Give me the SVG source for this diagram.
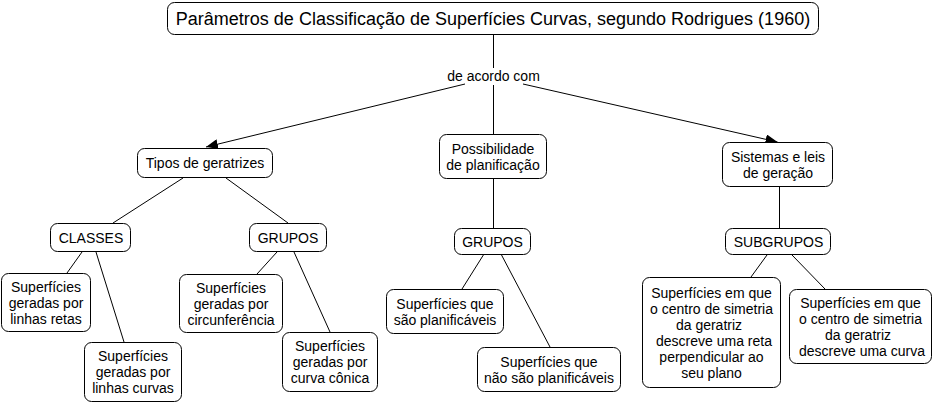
<svg xmlns="http://www.w3.org/2000/svg" width="934" height="403" viewBox="0 0 934 403">
<defs>
<style>
.n rect{fill:#fff;stroke:#000;stroke-width:1}
text{font-family:"Liberation Sans",Arial,sans-serif;font-size:14px;fill:#000;text-anchor:middle}
.t{font-size:18px}
.c line{stroke:#000;stroke-width:1}
</style>
<marker id="ar" viewBox="0 0 12 10" refX="12" refY="5" markerWidth="12" markerHeight="10" markerUnits="userSpaceOnUse" orient="auto">
<path d="M0,0 L12,5 L0,10 Z" fill="#000"/>
</marker>
</defs>
<rect width="934" height="403" fill="#fff"/>
<g class="c" id="connectors">
<line x1="493.5" y1="34" x2="493.5" y2="68"/>
<line x1="493.5" y1="85" x2="493.5" y2="134"/>
<line x1="465" y1="84" x2="206" y2="147" marker-end="url(#ar)"/>
<line x1="523" y1="84" x2="777.5" y2="142" marker-end="url(#ar)"/>
<line x1="183" y1="178" x2="113" y2="223"/>
<line x1="226" y1="178" x2="288" y2="223"/>
<line x1="82" y1="252" x2="67" y2="273"/>
<line x1="96" y1="252" x2="124" y2="342"/>
<line x1="277" y1="252" x2="257" y2="274"/>
<line x1="294" y1="252" x2="330" y2="332"/>
<line x1="493.5" y1="179" x2="493.5" y2="228"/>
<line x1="484" y1="254" x2="462" y2="289"/>
<line x1="501" y1="254" x2="550" y2="347"/>
<line x1="779.5" y1="187" x2="779.5" y2="228"/>
<line x1="767" y1="255" x2="751" y2="277"/>
<line x1="792" y1="255" x2="825" y2="289"/>
</g>
<g class="n" id="title"><rect x="167.5" y="2.5" width="651" height="32" rx="7"/><text class="t" x="493" y="24.5">Parâmetros de Classificação de Superfícies Curvas, segundo Rodrigues (1960)</text></g>
<g id="label"><text x="493.5" y="81">de acordo com</text></g>
<g class="n" id="tipos"><rect x="137.5" y="148.5" width="135" height="29" rx="7"/><text x="205" y="168">Tipos de geratrizes</text></g>
<g class="n" id="possib"><rect x="439.5" y="134.5" width="107" height="44" rx="7"/><text x="493" y="153.5">Possibilidade</text><text x="493" y="169.5">de planificação</text></g>
<g class="n" id="sistemas"><rect x="722.5" y="142.5" width="110" height="44" rx="7"/><text x="778" y="161.5">Sistemas e leis</text><text x="778" y="177.5">de geração</text></g>
<g class="n" id="classes"><rect x="50.5" y="223.5" width="80" height="28" rx="7"/><text x="91" y="243">CLASSES</text></g>
<g class="n" id="grupos1"><rect x="249.5" y="223.5" width="77" height="28" rx="7"/><text x="288" y="243">GRUPOS</text></g>
<g class="n" id="grupos2"><rect x="454.5" y="228.5" width="76" height="26" rx="7"/><text x="492.5" y="246.5">GRUPOS</text></g>
<g class="n" id="subgrupos"><rect x="725.5" y="228.5" width="105" height="26" rx="7"/><text x="778.5" y="246.5">SUBGRUPOS</text></g>
<g class="n" id="retas"><rect x="1.5" y="273.5" width="89" height="58" rx="7"/><text x="46" y="292">Superfícies</text><text x="46" y="308">geradas por</text><text x="46" y="324">linhas retas</text></g>
<g class="n" id="curvas"><rect x="84.5" y="342.5" width="97" height="59" rx="7"/><text x="133" y="361">Superfícies</text><text x="133" y="377">geradas por</text><text x="133" y="393">linhas curvas</text></g>
<g class="n" id="circ"><rect x="179.5" y="274.5" width="103" height="58" rx="7"/><text x="231" y="292.5">Superfícies</text><text x="231" y="308.5">geradas por</text><text x="231" y="324.5">circunferência</text></g>
<g class="n" id="conica"><rect x="282.5" y="332.5" width="95" height="59" rx="7"/><text x="330" y="351">Superfícies</text><text x="330" y="367">geradas por</text><text x="330" y="383">curva cônica</text></g>
<g class="n" id="planif"><rect x="386.5" y="289.5" width="117" height="44" rx="7"/><text x="445" y="308.5">Superfícies que</text><text x="445" y="324.5">são planificáveis</text></g>
<g class="n" id="naoplanif"><rect x="477.5" y="347.5" width="143" height="44" rx="7"/><text x="549" y="366.5">Superfícies que</text><text x="549" y="382.5">não são planificáveis</text></g>
<g class="n" id="sub1"><rect x="642.5" y="277.5" width="138" height="110" rx="7"/><text x="711.5" y="297.5">Superfícies em que</text><text x="711.5" y="313.5">o centro de simetria</text><text x="709" y="329.5">da geratriz</text><text x="714" y="345.5">descreve uma reta</text><text x="711.5" y="361.5">perpendicular ao</text><text x="711.5" y="377.5">seu plano</text></g>
<g class="n" id="sub2"><rect x="789.5" y="289.5" width="142" height="74" rx="7"/><text x="860.5" y="307.5">Superfícies em que</text><text x="860.5" y="323.5">o centro de simetria</text><text x="858" y="339.5">da geratriz</text><text x="862" y="355.5">descreve uma curva</text></g>
</svg>
